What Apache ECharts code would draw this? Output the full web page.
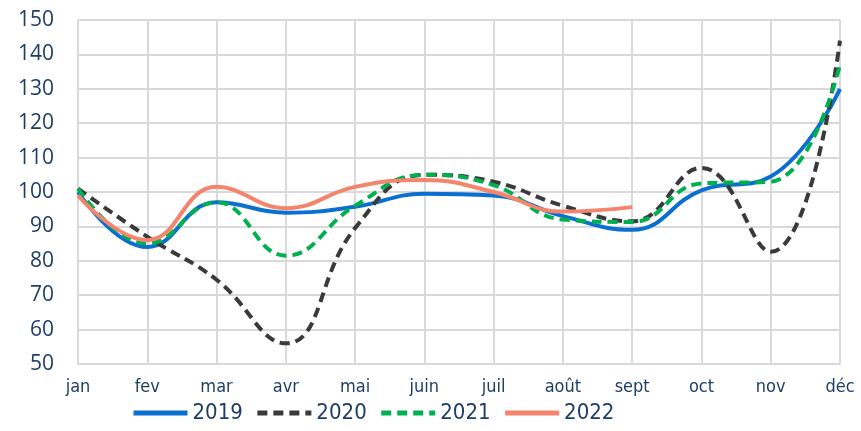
<!DOCTYPE html>
<html>
<head>
    <meta charset="utf-8">
    <title>Indice mensuel 2019-2022</title>
</head>
<body style="margin:0">
    <div id="main" style="width: 861px; height: 431px;"></div>
    <script src="https://cdn.jsdelivr.net/npm/echarts@6/dist/echarts.min.js"></script>
    <script type="text/javascript">
        var mois = ['jan', 'fev', 'mar', 'avr', 'mai', 'juin', 'juil', 'août', 'sept', 'oct', 'nov', 'déc'];
        var v2019 = [100, 84, 97, 94, 95.7, 99.5, 99, 93, 89, 100.5, 104.5, 130];
        var v2020 = [101, 87, 74.5, 56, 89.5, 105, 103, 96, 91.5, 107, 82.6, 144];
        var v2021 = [101, 85, 97, 81.5, 96, 105, 102, 92, 91.3, 102.5, 103, 137];
        var v2022 = [99, 86, 101.5, 95.3, 101.5, 103.5, 100, 94.3, 95.6];

        var chartDom = document.getElementById('main');
        var myChart = echarts.init(chartDom);

        var gris = '#d9d9d9';
        var bleuTexte = '#1f3e66';
        var police = '"Liberation Sans Narrow", "DejaVu Sans Condensed", sans-serif';

        function serie(nom, data, couleur, type) {
            return {
                name: nom,
                type: 'line',
                data: data,
                smooth: 0.45,
                symbol: 'none',
                lineStyle: { color: couleur, width: 4, type: type },
                itemStyle: { color: couleur }
            };
        }

        var option = {
            animation: false,
            grid: { left: 78, right: 21, top: 20, bottom: 67 },
            legend: {
                left: 126,
                bottom: 2,
                itemWidth: 54,
                itemHeight: 14,
                itemGap: 12,
                itemStyle: { opacity: 0 },
                lineStyle: { width: 5 },
                textStyle: { color: bleuTexte, fontSize: 22, fontFamily: police },
                data: ['2019', '2020', '2021', '2022']
            },
            xAxis: {
                type: 'category',
                data: mois,
                boundaryGap: false,
                axisLine: { lineStyle: { color: gris, width: 2 } },
                axisTick: { show: false },
                axisLabel: { color: bleuTexte, fontSize: 18, fontFamily: police, margin: 14 },
                splitLine: { show: true, lineStyle: { color: gris, width: 2 } }
            },
            yAxis: {
                type: 'value',
                min: 50,
                max: 150,
                interval: 10,
                axisLine: { show: false },
                axisTick: { show: false },
                axisLabel: { color: bleuTexte, fontSize: 21, fontFamily: '"Open Sans", sans-serif', margin: 24 },
                splitLine: { lineStyle: { color: gris, width: 2 } }
            },
            series: [
                serie('2019', v2019, '#0b6fd0', 'solid'),
                serie('2020', v2020, '#3a3a3a', [10, 6]),
                serie('2021', v2021, '#00b04f', [10, 6]),
                serie('2022', v2022, '#f4846c', 'solid')
            ]
        };

        myChart.setOption(option);
    </script>
</body>
</html>
